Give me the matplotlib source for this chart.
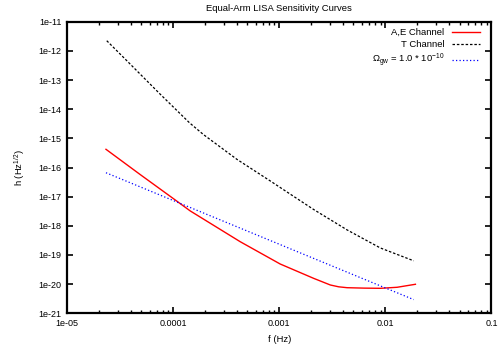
import math
import matplotlib
matplotlib.use('Agg')
import matplotlib.pyplot as plt
from matplotlib.ticker import FixedLocator, FuncFormatter, LogLocator, NullFormatter

plt.rcParams['font.family'] = ['Liberation Sans', 'DejaVu Sans']
plt.rcParams['mathtext.default'] = 'regular'

# A,E channel
f_ae = [2.33e-5, 4.89e-5, 1.0e-4, 1.45e-4, 4.29e-4, 1.02e-3, 2.11e-3, 3.03e-3,
        3.63e-3, 4.36e-3, 6.3e-3, 8.97e-3, 1.29e-2, 1.92e-2]
h_ae = [4.21e-16, 5.75e-17, 8.7e-18, 3.24e-18, 2.85e-19, 4.91e-20, 1.58e-20, 9.35e-21,
        8.1e-21, 7.55e-21, 7.3e-21, 7.19e-21, 7.80e-21, 9.89e-21]

# T channel
f_t = [2.37e-5, 3.66e-5, 7.53e-5, 1.43e-4, 1.93e-4, 3.99e-4, 8.22e-4, 1.52e-3,
       2.11e-3, 4.36e-3, 8.97e-3, 1.85e-2]
h_t = [2.23e-12, 4.61e-13, 3.31e-14, 3.39e-15, 1.35e-15, 1.91e-16, 3.47e-17, 7.94e-18,
       3.63e-18, 7.24e-19, 1.74e-19, 6.31e-20]

# Omega_gw = 1e-10
f_gw = [2.33e-5, 1.0e-4, 1.0e-3, 1.0e-2, 1.85e-2]
h_gw = [6.61e-17, 7.41e-18, 2.34e-19, 7.41e-21, 2.95e-21]

x_ticks = [1e-5, 1e-4, 1e-3, 1e-2, 1e-1]
x_labels = ['1e-05', '0.0001', '0.001', '0.01', '0.1']
y_exps = list(range(-21, -10))

fig = plt.figure(figsize=(5.01, 3.49), dpi=100)
ax = fig.add_axes([0.1337, 0.1023, 0.8473, 0.8355])

ax.plot(f_ae, h_ae, color='#ff0000', lw=1.0, label='A,E Channel')
ax.plot(f_t, h_t, color='#000000', lw=0.9, ls=(0, (2, 1.5)), label='T Channel')
ax.plot(f_gw, h_gw, color='#0000ff', lw=0.9, ls=(0, (1, 1.8)),
        label=r'$\Omega_{gw}$ = 1.0 * 10$^{-10}$')

ax.set_xscale('log')
ax.set_yscale('log')
ax.set_xlim(1e-5, 1e-1)
ax.set_ylim(1e-21, 1e-11)

ax.xaxis.set_major_locator(FixedLocator(x_ticks))
ax.xaxis.set_major_formatter(FuncFormatter(lambda v, p: x_labels[p] if p is not None and p < len(x_labels) else ''))
ax.xaxis.set_minor_locator(LogLocator(base=10, subs=range(2, 10), numticks=20))
ax.xaxis.set_minor_formatter(NullFormatter())
ax.yaxis.set_major_locator(FixedLocator([10.0 ** e for e in y_exps]))
ax.yaxis.set_major_formatter(FuncFormatter(lambda v, p: '1e%d' % round(math.log10(v))))
ax.yaxis.set_minor_locator(FixedLocator([]))

ax.tick_params(which='both', direction='in', top=True, right=True, labelsize=6.5, pad=4)
ax.tick_params(which='major', length=4, width=1.2)
ax.tick_params(which='minor', length=2.5, width=1.0)
for s in ax.spines.values():
    s.set_linewidth(1.6)

ax.set_title('Equal-Arm LISA Sensitivity Curves', fontsize=6.8, pad=7.5)
ax.set_xlabel('f (Hz)', fontsize=6.8, labelpad=5)
ax.set_ylabel('h (Hz$^{1/2}$)', fontsize=6.8, labelpad=8)

ax.legend(loc='upper right', bbox_to_anchor=(0.973, 0.978), frameon=False,
          fontsize=6.8, markerfirst=False, handlelength=3.0, handletextpad=0.75,
          labelspacing=0.3, borderpad=0, borderaxespad=0)

fig.savefig('out.png', dpi=100)
